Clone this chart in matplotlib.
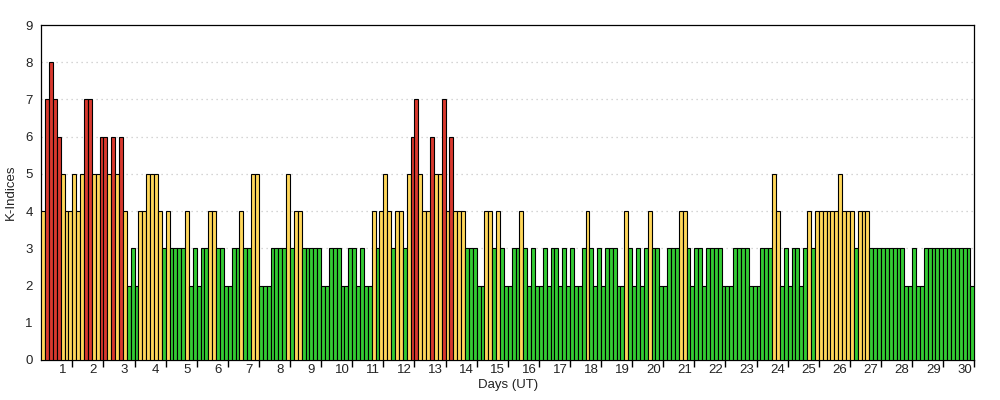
import matplotlib
matplotlib.use("Agg")
import matplotlib.pyplot as plt
import numpy as np

plt.rcParams['font.family'] = ['Liberation Sans', 'DejaVu Sans']

# 3-hourly K-indices, 8 per day, days 1..30
k_values = [
    4, 7, 8, 7, 6, 5, 4, 4,   # 1
    5, 4, 5, 7, 7, 5, 5, 6,   # 2
    6, 5, 6, 5, 6, 4, 2, 3,   # 3
    2, 4, 4, 5, 5, 5, 4, 3,   # 4
    4, 3, 3, 3, 3, 4, 2, 3,   # 5
    2, 3, 3, 4, 4, 3, 3, 2,   # 6
    2, 3, 3, 4, 3, 3, 5, 5,   # 7
    2, 2, 2, 3, 3, 3, 3, 5,   # 8
    3, 4, 4, 3, 3, 3, 3, 3,   # 9
    2, 2, 3, 3, 3, 2, 2, 3,   # 10
    3, 2, 3, 2, 2, 4, 3, 4,   # 11
    5, 4, 3, 4, 4, 3, 5, 6,   # 12
    7, 5, 4, 4, 6, 5, 5, 7,   # 13
    4, 6, 4, 4, 4, 3, 3, 3,   # 14
    2, 2, 4, 4, 3, 4, 3, 2,   # 15
    2, 3, 3, 4, 3, 2, 3, 2,   # 16
    2, 3, 2, 3, 3, 2, 3, 2,   # 17
    3, 2, 2, 3, 4, 3, 2, 3,   # 18
    2, 3, 3, 3, 2, 2, 4, 3,   # 19
    2, 3, 2, 3, 4, 3, 3, 2,   # 20
    2, 3, 3, 3, 4, 4, 3, 2,   # 21
    3, 3, 2, 3, 3, 3, 3, 2,   # 22
    2, 2, 3, 3, 3, 3, 2, 2,   # 23
    2, 3, 3, 3, 5, 4, 2, 3,   # 24
    2, 3, 3, 2, 3, 4, 3, 4,   # 25
    4, 4, 4, 4, 4, 5, 4, 4,   # 26
    4, 3, 4, 4, 4, 3, 3, 3,   # 27
    3, 3, 3, 3, 3, 3, 2, 2,   # 28
    3, 2, 2, 3, 3, 3, 3, 3,   # 29
    3, 3, 3, 3, 3, 3, 3, 2,   # 30
]
day_labels = [str(d) for d in range(1, 31)]
y_ticks = list(range(0, 10))

GREEN = "#33cc33"
YELLOW = "#ffd75a"
RED = "#d8392e"

def color_for(k):
    if k >= 6:
        return RED
    if k >= 4:
        return YELLOW
    return GREEN

vals = np.array(k_values)
per_day = 8
x = np.arange(len(vals)) / per_day
colors = [color_for(v) for v in vals]

fig = plt.figure(figsize=(10, 4), dpi=100)
ax = fig.add_axes([0.0412, 0.1, 0.9331, 0.8375])

ax.bar(x, vals, width=1 / per_day, align='edge', color=colors,
       edgecolor='black', linewidth=0.8, zorder=3)

ax.set_xlim(0, len(vals) / per_day)
ax.set_ylim(0, 9)

for yv in range(1, 9):
    ax.axhline(yv, color='#c8c8c8', linestyle=(0, (1, 3)), linewidth=0.9, zorder=1)

ax.set_yticks(y_ticks)
ax.set_yticklabels([str(v) for v in y_ticks], fontsize=9.5, color='#222222')
ax.tick_params(axis='y', length=0, pad=6)

n_days = len(day_labels)
ax.set_xticks(np.arange(1, n_days + 1))
ax.set_xticklabels([])
ax.tick_params(axis='x', which='major', length=5, width=1, direction='out', color='black')
ax.set_xticks(np.arange(1, n_days + 1) - 0.32, minor=True)
ax.set_xticklabels(day_labels, minor=True, fontsize=9.5, color='#222222')
ax.tick_params(axis='x', which='minor', length=0, pad=3)

for s in ax.spines.values():
    s.set_linewidth(0.9)
    s.set_color('black')

ax.set_ylabel('K-Indices', fontsize=9.5, labelpad=6, color='#222222')
ax.set_xlabel('Days (UT)', fontsize=9.5, labelpad=2, color='#222222')

fig.savefig('out.png', dpi=100)
